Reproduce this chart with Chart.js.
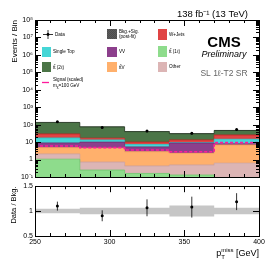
<!DOCTYPE html>
<html>
<head>
<meta charset="utf-8">
<script src="https://cdn.jsdelivr.net/npm/chart.js@4.4.1/dist/chart.umd.min.js"></script>
<style>
body { margin: 0; background: #fff; }
#wrap { position: relative; width: 273px; height: 265px; background: #fff; }
canvas { position: absolute; left: 0; }
</style>
</head>
<body>
<div id="wrap">
  <canvas id="main" width="273" height="190" style="top:0px"></canvas>
  <canvas id="ratio" width="273" height="85" style="top:180px"></canvas>
</div>
<script>
// bin edges / centres of the pTmiss histogram (GeV)
const edges = [250, 280, 310, 340, 370, 400];
const centers = [265, 295, 325, 355, 385];

// post-fit yields per bin, bottom of the stack first
const ttbar1l = [1.05, 0.25, 0.16, 0.13, 0.02];
const other = [1.05, 0.47, 0.27, 0.36, 0.6];
const ttV = [2.7, 3.8, 2.4, 1.8, 6.3];
const diboson = [4.2, 5.5, 2.5, 6.6, 1.1];
const singleTop = [8.4, 3.4, 2.0, 0.5, 6.6];
const wJets = [12, 3.4, 2.7, 4.0, 11];
const ttbar2l = [105, 58, 30, 17, 21];

const signal = [6.0, 4.8, 3.5, 2.8, 9.4];
const dataY = [145, 68, 43, 32, 53];
const dataErr = [12, 8.2, 6.6, 5.7, 7.3];

// ratio panel
const ratioY = [1.10, 0.906, 1.066, 1.08, 1.19];
const ratioErr = [0.09, 0.11, 0.17, 0.21, 0.17];
const bandUnc = [0.045, 0.065, 0.065, 0.11, 0.065];

const yTickLabels = { '-1': '10⁻¹', '0': '1', '1': '10', '2': '10²', '3': '10³', '4': '10⁴',
  '5': '10⁵', '6': '10⁶', '7': '10⁷', '8': '10⁸' };

Chart.defaults.font.family = "'Liberation Sans', Arial, sans-serif";
Chart.defaults.color = '#000';

// histogram points: value of bin i held from edge i to edge i+1
function steps(vals) {
  return edges.map((x, i) => ({ x: x, y: vals[Math.min(i, vals.length - 1)] }));
}

const components = [
  { v: ttbar1l, c: '#8edc8c', b: '#6cc46a' },
  { v: other, c: '#dcb5b5', b: '#c9a0a0' },
  { v: ttV, c: '#ffb06c', b: '#f09a50' },
  { v: diboson, c: '#8c3f8c', b: '#6e2c6e' },
  { v: singleTop, c: '#45d6d6', b: '#2cbcbc' },
  { v: wJets, c: '#e04444', b: '#c42020' },
  { v: ttbar2l, c: '#4b7547', b: '#1f301d' }
];

let running = [0, 0, 0, 0, 0];
const mainSets = components.map((comp, k) => {
  running = running.map((r, i) => r + comp.v[i]);
  return {
    data: steps(running), stepped: true, pointRadius: 0,
    borderColor: comp.b, borderWidth: 0.8,
    backgroundColor: comp.c, fill: k === 0 ? 'start' : '-1'
  };
});
const total = running;

mainSets.push({
  data: steps(total.map((t, i) => t * (1 - bandUnc[i]))), stepped: true,
  pointRadius: 0, borderWidth: 0, fill: false
});
mainSets.push({
  data: steps(total.map((t, i) => t * (1 + bandUnc[i]))), stepped: true,
  pointRadius: 0, borderWidth: 0, backgroundColor: 'rgba(45,45,45,0.6)', fill: '-1'
});
mainSets.push({
  data: steps(signal), stepped: true, pointRadius: 0, fill: false,
  borderColor: '#ff1a9c', borderWidth: 1.6, borderDash: [3, 2], order: -1
});
mainSets.push({
  type: 'scatter', data: centers.map((x, i) => ({ x: x, y: dataY[i] })),
  pointRadius: 1.5, pointBackgroundColor: '#000', pointBorderWidth: 0, order: -2,
  errs: dataErr
});

// frame with inward ticks on all four sides
const framePlugin = {
  id: 'frame',
  afterDraw(chart) {
    const o = chart.options.plugins.frame;
    const { ctx, chartArea: a } = chart;
    const xs = chart.scales.x, ys = chart.scales.y;
    ctx.save();
    ctx.strokeStyle = '#000';
    ctx.lineWidth = 1;
    ctx.beginPath();
    for (let v = xs.min; v <= xs.max + 1e-9; v += o.xMinor) {
      const px = Math.round(xs.getPixelForValue(v)) + 0.5;
      const len = (Math.round(v) % o.xMajor === 0) ? 6 : 3;
      ctx.moveTo(px, a.bottom); ctx.lineTo(px, a.bottom - len);
      ctx.moveTo(px, a.top); ctx.lineTo(px, a.top + len);
    }
    o.yTicks.forEach(t => {
      const py = Math.round(ys.getPixelForValue(t.v)) + 0.5;
      const len = t.major ? 6 : 3;
      ctx.moveTo(a.left, py); ctx.lineTo(a.left + len, py);
      ctx.moveTo(a.right, py); ctx.lineTo(a.right - len, py);
    });
    ctx.stroke();
    ctx.strokeRect(Math.round(a.left) + 0.5, Math.round(a.top) + 0.5,
      Math.round(a.right - a.left), Math.round(a.bottom - a.top));
    ctx.restore();
  }
};

// vertical error bars on the data points
const errPlugin = {
  id: 'errbars',
  afterDatasetsDraw(chart) {
    const { ctx } = chart;
    const xs = chart.scales.x, ys = chart.scales.y;
    chart.data.datasets.forEach(ds => {
      if (!ds.errs) return;
      ctx.save();
      ctx.strokeStyle = '#000';
      ctx.lineWidth = 0.8;
      ctx.beginPath();
      ds.data.forEach((p, i) => {
        const px = xs.getPixelForValue(p.x);
        ctx.moveTo(px, ys.getPixelForValue(p.y - ds.errs[i]));
        ctx.lineTo(px, ys.getPixelForValue(p.y + ds.errs[i]));
      });
      ctx.stroke();
      ctx.restore();
    });
  }
};

const logTicks = [];
for (let e = -1; e <= 7; e++) {
  for (let k = 1; k <= 9; k++) logTicks.push({ v: k * Math.pow(10, e), major: k === 1 });
}
logTicks.push({ v: 1e8, major: true });

function legBox(ctx, x, y, w, h, c) {
  ctx.fillStyle = c;
  ctx.fillRect(x, y, w, h);
}

const textPlugin = {
  id: 'texts',
  afterDraw(chart) {
    const ctx = chart.ctx;
    ctx.save();
    ctx.fillStyle = '#000';
    ctx.textBaseline = 'alphabetic';

    ctx.font = "9.5px 'Liberation Sans'";
    ctx.textAlign = 'right';
    ctx.fillText('138 fb⁻¹ (13 TeV)', 248, 16.5);

    ctx.textAlign = 'center';
    ctx.font = "bold 15px 'Liberation Sans'";
    ctx.fillText('CMS', 224, 47);
    ctx.font = "italic 9px 'Liberation Sans'";
    ctx.fillText('Preliminary', 224, 57);
    ctx.fillStyle = '#666';
    ctx.font = "8.5px 'Liberation Sans'";
    ctx.fillText('SL 1ℓ-T2 SR', 224, 76);

    // y title
    ctx.fillStyle = '#000';
    ctx.save();
    ctx.translate(15, 20);
    ctx.rotate(-Math.PI / 2);
    ctx.textAlign = 'right';
    ctx.textBaseline = 'middle';
    ctx.font = "8px 'Liberation Sans'";
    ctx.fillText('Events / Bin', 0, 0);
    ctx.restore();

    // legend
    ctx.font = "4.6px 'Liberation Sans'";
    ctx.textAlign = 'left';
    ctx.textBaseline = 'middle';
    ctx.strokeStyle = '#000';
    ctx.lineWidth = 0.8;
    ctx.beginPath();
    ctx.moveTo(43, 34.5); ctx.lineTo(53, 34.5);
    ctx.moveTo(48, 30); ctx.lineTo(48, 39);
    ctx.stroke();
    ctx.beginPath();
    ctx.arc(48, 34.5, 1.4, 0, Math.PI * 2);
    ctx.fill();
    ctx.fillText('Data', 55, 34.5);

    legBox(ctx, 42, 47, 9, 10, components[4].c);
    ctx.fillStyle = '#000';
    ctx.fillText('Single Top', 53, 52);
    legBox(ctx, 42, 62, 9, 10, components[6].c);
    ctx.fillStyle = '#000';
    ctx.fillText('tt̄ (2ℓ)', 53, 67.5);

    ctx.strokeStyle = '#ff1a9c';
    ctx.lineWidth = 1.3;
    ctx.beginPath();
    ctx.moveTo(42, 82.5); ctx.lineTo(49, 82.5);
    ctx.stroke();
    ctx.fillText('Signal (scaled)', 53, 80);
    ctx.fillText('m', 53, 86);
    const mw = ctx.measureText('m').width;
    ctx.font = "3.4px 'Liberation Sans'";
    ctx.fillText('χ', 53 + mw, 87.2);
    const cw = ctx.measureText('χ').width;
    ctx.font = "4.6px 'Liberation Sans'";
    ctx.fillText('=100 GeV', 53 + mw + cw, 86);

    legBox(ctx, 107, 29, 10, 10, '#4e4e4e');
    ctx.strokeStyle = '#6a6a6a';
    ctx.lineWidth = 0.5;
    ctx.beginPath();
    for (let d = 2; d < 20; d += 2) {
      ctx.moveTo(107 + Math.max(0, d - 10), 29 + Math.min(d, 10));
      ctx.lineTo(107 + Math.min(d, 10), 29 + Math.max(0, d - 10));
    }
    ctx.stroke();
    ctx.fillStyle = '#000';
    ctx.fillText('Bkg.+Sig.', 119, 31.5);
    ctx.fillText('(post-fit)', 119, 36.5);
    legBox(ctx, 107, 47, 10, 10, components[3].c);
    ctx.fillStyle = '#000';
    ctx.fillText('VV', 119, 52);
    legBox(ctx, 107, 62, 10, 10, components[2].c);
    ctx.fillStyle = '#000';
    ctx.fillText('tt̄V', 119, 67.5);

    legBox(ctx, 158, 29, 9, 11, components[5].c);
    ctx.fillStyle = '#000';
    ctx.fillText('W+Jets', 169, 34.5);
    legBox(ctx, 158, 46, 9, 11, components[0].c);
    ctx.fillStyle = '#000';
    ctx.fillText('tt̄ (1ℓ)', 169, 51.5);
    legBox(ctx, 158, 62, 9, 10, components[1].c);
    ctx.fillStyle = '#000';
    ctx.fillText('Other', 169, 67);

    ctx.restore();
  }
};

new Chart(document.getElementById('main'), {
  type: 'line',
  data: { datasets: mainSets },
  options: {
    responsive: false, animation: false, devicePixelRatio: 1, events: [],
    layout: { padding: { top: 20, right: 14, bottom: 13, left: 0 } },
    plugins: {
      legend: { display: false }, tooltip: { enabled: false },
      frame: { xMinor: 10, xMajor: 50, yTicks: logTicks }
    },
    scales: {
      x: { type: 'linear', min: 250, max: 400, display: false },
      y: {
        type: 'logarithmic', min: 0.1, max: 1e8,
        grid: { display: false, drawTicks: false }, border: { display: false },
        ticks: {
          autoSkip: false, padding: 2, font: { size: 7 }, color: '#000',
          callback: v => {
            const l = Math.log10(v), e = Math.round(l);
            return Math.abs(l - e) < 1e-6 ? yTickLabels[String(e)] : '';
          }
        },
        afterFit: s => { s.width = 35; }
      }
    }
  },
  plugins: [framePlugin, errPlugin, textPlugin]
});

const ratioTextPlugin = {
  id: 'ratioTexts',
  afterDraw(chart) {
    const ctx = chart.ctx;
    ctx.save();
    ctx.fillStyle = '#000';
    ctx.save();
    ctx.translate(14, 25);
    ctx.rotate(-Math.PI / 2);
    ctx.textAlign = 'center';
    ctx.textBaseline = 'middle';
    ctx.font = "7.5px 'Liberation Sans'";
    ctx.fillText('Data / Bkg.', 0, 0);
    ctx.restore();

    // pTmiss [GeV], right aligned at the frame edge
    ctx.textBaseline = 'alphabetic';
    ctx.textAlign = 'left';
    const big = "9px 'Liberation Sans'", small = "6px 'Liberation Sans'";
    ctx.font = big;
    const wp = ctx.measureText('p').width, wg = ctx.measureText(' [GeV]').width;
    ctx.font = small;
    const wm = ctx.measureText('miss').width;
    let x = chart.chartArea.right - (wp + wm + wg);
    const base = 76;
    ctx.font = big;
    ctx.fillText('p', x, base);
    ctx.font = small;
    ctx.fillText('miss', x + wp, base - 4);
    ctx.fillText('T', x + wp, base + 2.5);
    ctx.font = big;
    ctx.fillText(' [GeV]', x + wp + wm, base);
    ctx.restore();
  }
};

new Chart(document.getElementById('ratio'), {
  type: 'line',
  data: {
    datasets: [
      { data: steps(bandUnc.map(u => 1 - u)), stepped: true, pointRadius: 0, borderWidth: 0, fill: false },
      { data: steps(bandUnc.map(u => 1 + u)), stepped: true, pointRadius: 0, borderWidth: 0,
        backgroundColor: '#c6c6c6', fill: '-1' },
      { type: 'scatter', data: centers.map((x, i) => ({ x: x, y: ratioY[i] })),
        pointRadius: 1.5, pointBackgroundColor: '#000', pointBorderWidth: 0, order: -2, errs: ratioErr }
    ]
  },
  options: {
    responsive: false, animation: false, devicePixelRatio: 1, events: [],
    layout: { padding: { top: 6, right: 14, bottom: 0, left: 0 } },
    plugins: {
      legend: { display: false }, tooltip: { enabled: false },
      frame: { xMinor: 10, xMajor: 50, yTicks: [{ v: 0.5, major: true }, { v: 1, major: true }, { v: 1.5, major: true }] }
    },
    scales: {
      x: {
        type: 'linear', min: 250, max: 400,
        grid: { display: false, drawTicks: false }, border: { display: false },
        ticks: { stepSize: 50, padding: 2, font: { size: 7 }, color: '#000', callback: v => String(v) },
        afterFit: s => { s.height = 29; }
      },
      y: {
        type: 'linear', min: 0.5, max: 1.5,
        grid: { display: false, drawTicks: false }, border: { display: false },
        ticks: { stepSize: 0.5, padding: 2, font: { size: 7 }, color: '#000', callback: v => String(v) },
        afterFit: s => { s.width = 35; }
      }
    }
  },
  plugins: [framePlugin, errPlugin, ratioTextPlugin]
});
</script>
</body>
</html>
